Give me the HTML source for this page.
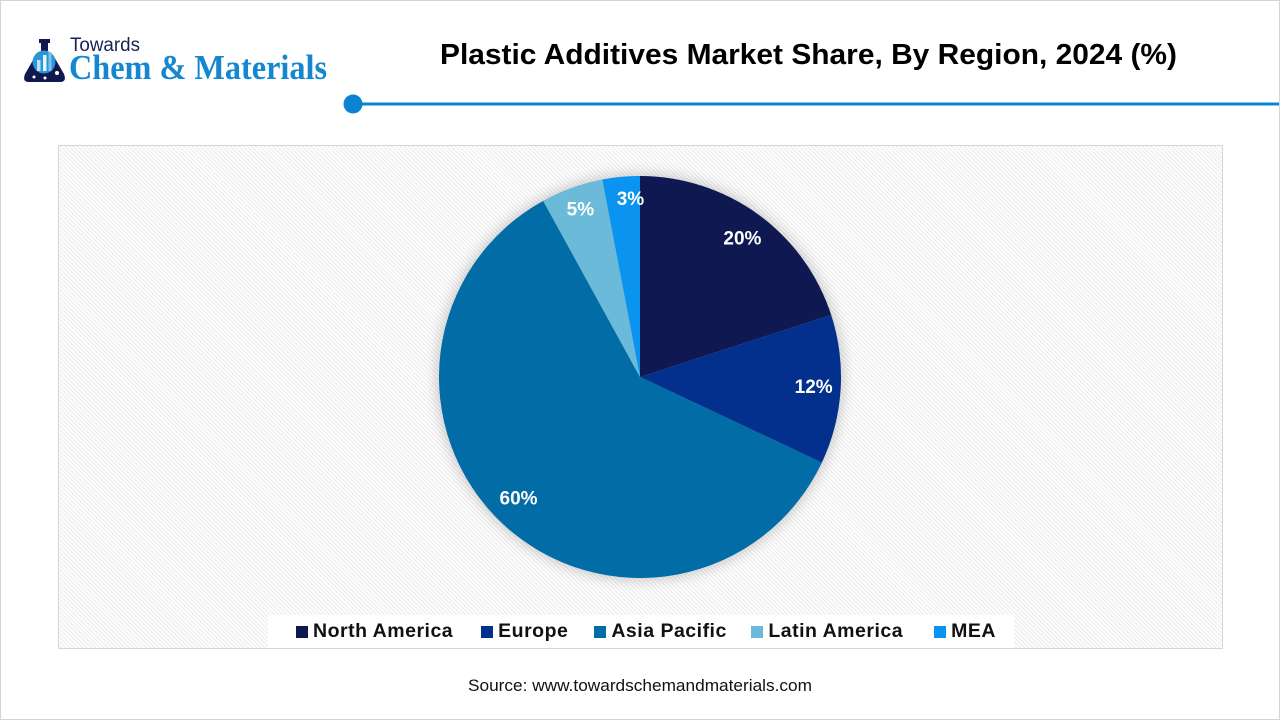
<!DOCTYPE html>
<html lang="en">
<head>
<meta charset="utf-8">
<title>Plastic Additives Market Share, By Region, 2024 (%)</title>
<style>
html,body{margin:0;padding:0;background:#fff;}
#page{position:relative;width:1280px;height:720px;overflow:hidden;background:#fff;box-sizing:border-box;border:1px solid #d4d4d4;font-family:"Liberation Sans",sans-serif;}
#chart{position:absolute;left:-1px;top:-1px;}
#legend{position:absolute;left:267px;top:614px;width:746px;height:33px;background:#fff;display:flex;align-items:center;box-sizing:border-box;padding-left:28px;}
.entry{display:flex;align-items:center;gap:5px;font-weight:bold;font-size:19.5px;letter-spacing:.5px;color:#111;white-space:nowrap;}
.entry:nth-child(2){margin-left:28px;}
.entry:nth-child(3){margin-left:26px;}
.entry:nth-child(4){margin-left:24.5px;}
.entry:nth-child(5){margin-left:31px;}
.swatch{width:12px;height:12px;display:block;}
</style>
</head>
<body>
<div id="page">
<svg id="chart" width="1280" height="720" viewBox="0 0 1280 720" xmlns="http://www.w3.org/2000/svg">
  <defs>
    <pattern id="hatch" width="3" height="3" patternUnits="userSpaceOnUse" patternTransform="rotate(45)">
      <rect width="3" height="3" fill="#ffffff"/>
      <rect width="3" height="1.2" fill="#ececec"/>
    </pattern>
    <filter id="soft" x="-20%" y="-20%" width="140%" height="140%">
      <feGaussianBlur stdDeviation="7"/>
    </filter>
  </defs>

  <g>
    <rect x="39" y="39" width="11" height="4" fill="#10194f"/>
    <rect x="41" y="43" width="7" height="8" fill="#10194f"/>
    <path d="M36 55 L25 74 Q22 82 29 82 L60 82 Q67 82 64 74 L53 55 Z" fill="#10194f"/>
    <circle cx="44" cy="62" r="11.5" fill="#2a96d8"/>
    <rect x="37" y="60" width="3.5" height="11" fill="#bfe3f7"/>
    <rect x="43" y="55" width="3.5" height="16" fill="#e8f4fb"/>
    <rect x="48.5" y="52" width="3" height="19" fill="#7cc3ec"/>
    <circle cx="34" cy="77" r="1.5" fill="#ffffff"/>
    <circle cx="45" cy="78" r="1.5" fill="#ffffff"/>
    <circle cx="57" cy="73" r="2" fill="#ffffff"/>
    <text x="70" y="51" font-family="Liberation Sans, sans-serif" font-size="19" fill="#1a2154" textLength="70" lengthAdjust="spacingAndGlyphs">Towards</text>
    <text x="69" y="79" font-family="Liberation Serif, serif" font-weight="bold" font-size="35" fill="#1487cf" textLength="258" lengthAdjust="spacingAndGlyphs">Chem &amp; Materials</text>
  </g>

  <text x="440" y="64" font-family="Liberation Sans, sans-serif" font-weight="bold" font-size="29" fill="#000" textLength="737" lengthAdjust="spacingAndGlyphs">Plastic Additives Market Share, By Region, 2024 (%)</text>

  <rect x="353" y="102.5" width="927" height="3" fill="#0a84d0"/>
  <circle cx="353" cy="104" r="9.5" fill="#0a84d0"/>

  <rect x="58.5" y="145.5" width="1164" height="503" fill="url(#hatch)" stroke="#d6d6d6" stroke-width="1"/>

  <g id="slices"></g>
  <g id="labels"></g>

  <text x="468" y="691" font-family="Liberation Sans, sans-serif" font-size="17" fill="#111" textLength="344" lengthAdjust="spacingAndGlyphs">Source: www.towardschemandmaterials.com</text>
</svg>
<div id="legend"></div>
</div>
<script>
const regions = ["North America", "Europe", "Asia Pacific", "Latin America", "MEA"];
const shares = [20, 12, 60, 5, 3];
const sliceColors = ["#0f1851", "#03308c", "#026ca6", "#6bbad9", "#0b93f0"];

const SVG_NS = "http://www.w3.org/2000/svg";
const cx = 640, cy = 377, radius = 201, labelRadius = 176;
const total = shares.reduce(function (a, b) { return a + b; }, 0);
function angleOf(value) { return value / total * Math.PI * 2; }
function px(a, r) { return cx + Math.sin(a) * r; }
function py(a, r) { return cy - Math.cos(a) * r; }
function labelNudge(i) {
  const nudgeX = [-1, -2, -1, 0, 7];
  const nudgeY = [4, -1, -7, -2, -3];
  return { x: nudgeX[i] || 0, y: nudgeY[i] || 0 };
}

const slicesGroup = document.getElementById("slices");
const labelsGroup = document.getElementById("labels");
const legendBox = document.getElementById("legend");

const shadow = document.createElementNS(SVG_NS, "circle");


shadow.setAttribute("cx", cx);
shadow.setAttribute("cy", cy);
shadow.setAttribute("r", radius + 2);
shadow.setAttribute("fill", "#000");
shadow.setAttribute("opacity", "0.2");
shadow.setAttribute("filter", "url(#soft)");
slicesGroup.appendChild(shadow);

let cumulative = 0;
shares.forEach(function (value, i) {
  const start = angleOf(cumulative);
  const end = angleOf(cumulative + value);
  const mid = (start + end) / 2;
  cumulative += value;
  const large = end - start > Math.PI ? 1 : 0;
  const slug = regions[i].toLowerCase().replace(/\s+/g, "-");
  const nudge = labelNudge(i);

  const path = document.createElementNS(SVG_NS, "path");
  path.setAttribute("d", "M" + cx + " " + cy + " L" + px(start, radius) + " " + py(start, radius) +
    " A" + radius + " " + radius + " 0 " + large + " 1 " + px(end, radius) + " " + py(end, radius) + " Z");
  path.setAttribute("fill", sliceColors[i]);
  
  
  slicesGroup.appendChild(path);

  const label = document.createElementNS(SVG_NS, "text");
  label.setAttribute("x", px(mid, labelRadius) + nudge.x);
  label.setAttribute("y", py(mid, labelRadius) + 6 + nudge.y);
  label.setAttribute("text-anchor", "middle");
  label.setAttribute("font-family", "Liberation Sans, sans-serif");
  label.setAttribute("font-weight", "bold");
  label.setAttribute("font-size", "19");
  label.setAttribute("fill", "#ffffff");
  
  
  label.textContent = value + "%";
  labelsGroup.appendChild(label);

  const entry = document.createElement("div");
  entry.className = "entry";
  
  
  const swatch = document.createElement("span");
  swatch.className = "swatch";
  swatch.style.background = sliceColors[i];
  
  
  const text = document.createElement("span");
  text.textContent = regions[i];
  
  
  entry.appendChild(swatch);
  entry.appendChild(text);
  legendBox.appendChild(entry);
});
</script>
</body>
</html>
